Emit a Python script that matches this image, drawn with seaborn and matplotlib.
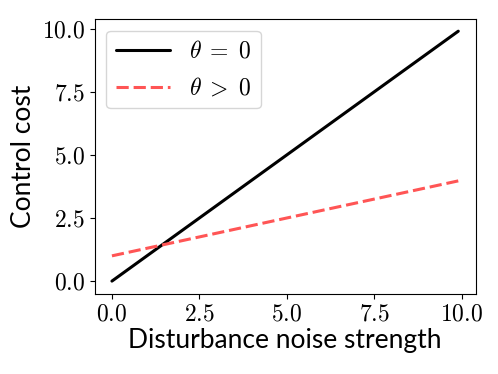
import numpy as np
import pandas as pd
import seaborn as sns
import matplotlib
matplotlib.use('Agg')
import matplotlib.pyplot as plt
from matplotlib.ticker import FuncFormatter

# noise strength grid and the two cost curves
noise = [round(0.1 * i, 1) for i in range(100)]
cost_theta0 = list(noise)
cost_theta_pos = [round(1.0 + 0.3 * v, 3) for v in noise]
labels = [r'$\theta \;=\; 0$', r'$\theta \;>\; 0$']

df = pd.concat([
    pd.DataFrame({'noise': noise, 'cost': cost_theta0, 'case': labels[0]}),
    pd.DataFrame({'noise': noise, 'cost': cost_theta_pos, 'case': labels[1]}),
])

sns.set_style('ticks')
plt.rcParams['mathtext.fontset'] = 'cm'
plt.rcParams['font.family'] = ['Lato', 'DejaVu Sans']
for k in ['text.color', 'axes.labelcolor', 'xtick.color', 'ytick.color', 'axes.edgecolor']:
    plt.rcParams[k] = 'black'

fig, ax = plt.subplots(figsize=(4.98, 3.74), dpi=100)
fig.subplots_adjust(left=0.19, right=0.955, top=0.95, bottom=0.215)

sns.lineplot(data=df, x='noise', y='cost', hue='case', style='case',
             palette=['black', '#ff5555'], dashes=[(None, None), (4, 1.6)],
             linewidth=2.2, ax=ax)

ax.set_xticks([0, 2.5, 5, 7.5, 10])
ax.set_yticks([0, 2.5, 5, 7.5, 10])
fmt = FuncFormatter(lambda v, p: r'$%.1f$' % v)
ax.xaxis.set_major_formatter(fmt)
ax.yaxis.set_major_formatter(fmt)
ax.tick_params(labelsize=17)

ax.set_xlabel('Disturbance noise strength', fontsize=19, labelpad=3)
ax.set_ylabel('Control cost', fontsize=19)

ax.legend(title=None, fontsize=17, loc='upper left', handlelength=2.3,
          labelspacing=0.6)

plt.savefig('out.png', dpi=100)
